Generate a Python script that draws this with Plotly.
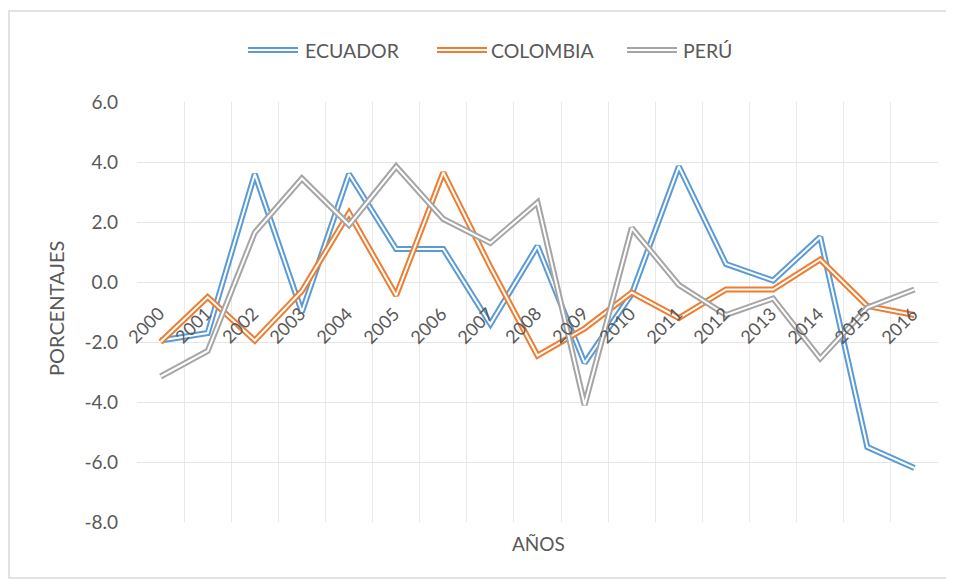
import plotly.graph_objects as go

years = ["2000", "2001", "2002", "2003", "2004", "2005", "2006", "2007", "2008",
         "2009", "2010", "2011", "2012", "2013", "2014", "2015", "2016"]
ecuador = [-1.95, -1.7, 3.6, -1.0, 3.6, 1.1, 1.1, -1.4, 1.2, -2.7, -0.4, 3.85, 0.6, 0.05, 1.5, -5.5, -6.2]
colombia = [-2.0, -0.5, -1.95, -0.3, 2.3, -0.45, 3.65, 0.5, -2.45, -1.55, -0.35, -1.2, -0.25, -0.25, 0.75, -0.8, -1.1]
peru = [-3.15, -2.3, 1.65, 3.45, 1.9, 3.85, 2.1, 1.3, 2.65, -4.1, 1.8, -0.1, -1.1, -0.55, -2.55, -0.85, -0.25]
series_names = ["ECUADOR", "COLOMBIA", "PERÚ"]
colors = ["#5B9BD5", "#ED7D31", "#A5A5A5"]
y_ticks = [6, 4, 2, 0, -2, -4, -6, -8]

FONT = "Lato, 'Open Sans', sans-serif"
TXT = "#595959"

# page offset (default body margin) and plot-area geometry
OFF = 8
W, H = 946, 573
L, R, T, B = 129, 16, 94, 59
PW, PH = W - L - R, H - T - B


def px_x(px):
    return (px - OFF - L) / PW


def px_y(py):
    return (H - B - (py - OFF)) / PH


xs = list(range(len(years)))
fig = go.Figure()
for name, vals, col in zip(series_names, [ecuador, colombia, peru], colors):
    fig.add_trace(go.Scatter(x=xs, y=vals, mode="lines", name=name,
                             line=dict(color=col, width=6), showlegend=False,
                             hoverinfo="skip"))
    fig.add_trace(go.Scatter(x=xs, y=vals, mode="lines", name=name,
                             line=dict(color="white", width=2), showlegend=False,
                             hoverinfo="skip"))

annotations = []
for i, yr in enumerate(years):
    annotations.append(dict(x=i, y=-1.43, xref="x", yref="y", text=yr, showarrow=False,
                            textangle=-45, xshift=-15, xanchor="center", yanchor="middle",
                            font=dict(family=FONT, size=18, color=TXT)))

shapes = []
# chart border
shapes.append(dict(type="rect", xref="paper", yref="paper",
                   x0=px_x(9), x1=px_x(951), y0=px_y(578), y1=px_y(11),
                   line=dict(color="#D9D9D9", width=1.5), layer="below"))

# manual legend
leg_items = [(248, 298, 303), (437, 487, 489), (627, 677, 681)]
for (s0, s1, tx), name, col in zip(leg_items, series_names, colors):
    shapes.append(dict(type="line", xref="paper", yref="paper",
                       x0=px_x(s0), x1=px_x(s1), y0=px_y(50), y1=px_y(50),
                       line=dict(color=col, width=6)))
    shapes.append(dict(type="line", xref="paper", yref="paper",
                       x0=px_x(s0), x1=px_x(s1), y0=px_y(50), y1=px_y(50),
                       line=dict(color="white", width=2)))
    annotations.append(dict(x=px_x(tx), y=px_y(50), xref="paper", yref="paper",
                            xanchor="left", yanchor="middle", text=name, showarrow=False,
                            font=dict(family=FONT, size=19.5, color=TXT)))

# axis titles
annotations.append(dict(x=px_x(56), y=px_y(309), xref="paper", yref="paper",
                        xanchor="center", yanchor="middle",
                        text="PORCENTAJES", textangle=-90, showarrow=False,
                        font=dict(family=FONT, size=20, color=TXT)))
annotations.append(dict(x=px_x(538), y=px_y(543), xref="paper", yref="paper",
                        xanchor="center", yanchor="middle",
                        text="AÑOS", showarrow=False,
                        font=dict(family=FONT, size=19, color=TXT)))

fig.update_layout(
    width=W, height=H,
    margin=dict(l=L, r=R, t=T, b=B),
    paper_bgcolor="white", plot_bgcolor="white",
    showlegend=False,
    shapes=shapes, annotations=annotations,
    xaxis=dict(range=[-0.5, len(years) - 0.5],
               tickvals=[i - 0.5 for i in range(len(years) + 1)],
               showticklabels=False, showgrid=True, gridcolor="#E9E9E9", gridwidth=1,
               zeroline=False, showline=False, ticks=""),
    yaxis=dict(range=[-8, 6], tickvals=y_ticks, ticktext=[f"{v:.1f}" for v in y_ticks],
               showgrid=True, gridcolor="#E6E6E6", gridwidth=1, zeroline=False,
               showline=False, ticks="", ticklabelstandoff=18,
               tickfont=dict(family=FONT, size=19, color=TXT)),
)

fig.write_html("out.html")
